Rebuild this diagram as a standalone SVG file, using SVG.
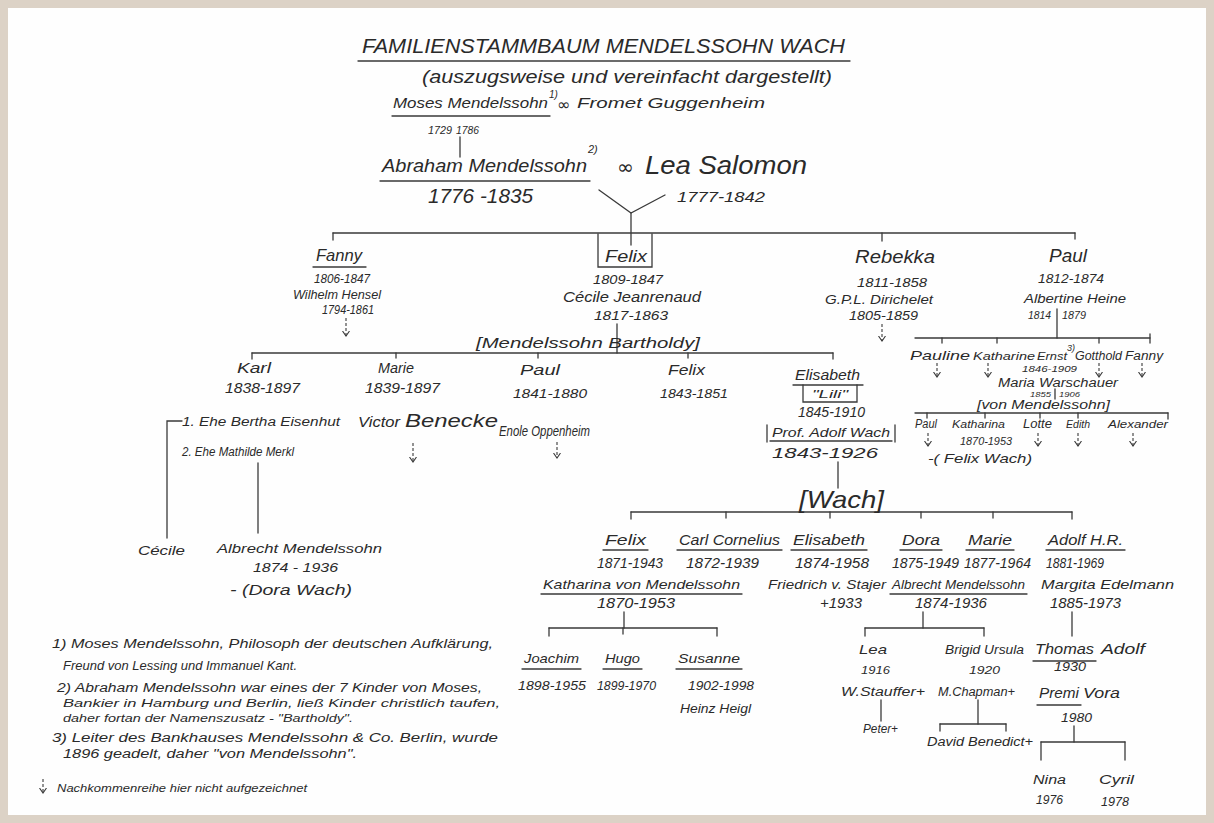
<svg xmlns="http://www.w3.org/2000/svg" width="1214" height="823" viewBox="0 0 1214 823">
<defs>
<style>
text{font-family:"Liberation Sans",Arial,sans-serif;font-style:italic;fill:#2a2a2a}
.ln{stroke:#3a3a3a;stroke-width:1.3;fill:none;stroke-linecap:round}
.ar{stroke:#3a3a3a;stroke-width:1.1;fill:none;stroke-dasharray:3 2;marker-end:url(#arr)}
.sym{font-family:"DejaVu Sans",sans-serif;font-style:normal}
.f8{font-size:8px}.f9{font-size:9px}.f10{font-size:10px}.f11{font-size:11px}.f12{font-size:12px}.f13{font-size:13px}.f14{font-size:14px}.f15{font-size:15px}.f16{font-size:16px}.f17{font-size:17px}.f18{font-size:18px}.f19{font-size:19px}.f20{font-size:20px}.f21{font-size:21px}.f24{font-size:24px}.f26{font-size:26px}
</style>
<marker id="arr" viewBox="0 -4 8 8" refX="5" refY="0" markerWidth="8" markerHeight="8" orient="auto" markerUnits="userSpaceOnUse">
<path d="M0,-3.5 L5,0 L0,3.5" fill="none" stroke="#3a3a3a" stroke-width="1.1"/>
</marker>
</defs>
<rect width="1214" height="823" fill="#dcd2c6"/>
<rect x="8" y="8" width="1198" height="807" fill="#fefefe"/>

<g id="title">
<text class="f21" x="362" y="53" textLength="483" lengthAdjust="spacingAndGlyphs">FAMILIENSTAMMBAUM MENDELSSOHN WACH</text>
<line class="ln" x1="358" y1="61" x2="850" y2="61"/>
<text class="f18" x="422" y="83" textLength="410" lengthAdjust="spacingAndGlyphs">(auszugsweise und vereinfacht dargestellt)</text>
</g>

<g id="moses">
<text class="f15" x="393" y="108" textLength="155" lengthAdjust="spacingAndGlyphs">Moses Mendelssohn</text>
<line class="ln" x1="392" y1="116" x2="550" y2="116"/>
<text class="f10" x="549" y="98">1)</text>
<text class="sym f16" x="557" y="110">∞</text>
<text class="f11" x="428" y="134" textLength="24" lengthAdjust="spacingAndGlyphs">1729</text>
<text class="f11" x="456" y="134" textLength="23" lengthAdjust="spacingAndGlyphs">1786</text>
</g>
<g id="fromet">
<text class="f15" x="577" y="108" textLength="188" lengthAdjust="spacingAndGlyphs">Fromet Guggenheim</text>
</g>

<g id="abraham">
<text class="f19" x="382" y="172" textLength="205" lengthAdjust="spacingAndGlyphs">Abraham Mendelssohn</text>
<line class="ln" x1="380" y1="181" x2="590" y2="181"/>
<text class="f11" x="588" y="153">2)</text>
<text class="f21" x="428" y="203" textLength="105" lengthAdjust="spacingAndGlyphs">1776 -1835</text>
<text class="sym f20" x="617" y="174">∞</text>
</g>
<g id="lea">
<text class="f26" x="645" y="174" textLength="162" lengthAdjust="spacingAndGlyphs">Lea Salomon</text>
<text class="f14" x="677" y="202" textLength="88" lengthAdjust="spacingAndGlyphs">1777-1842</text>
</g>

<g id="connectors">
<line class="ln" x1="460" y1="137" x2="460" y2="157"/>
<polyline class="ln" points="599,190 631,213 665,195"/>
<line class="ln" x1="631" y1="213" x2="631" y2="245"/>
<line class="ln" x1="333" y1="233" x2="1075" y2="233"/>
<line class="ln" x1="333" y1="233" x2="333" y2="240"/>
<line class="ln" x1="882" y1="233" x2="882" y2="241"/>
<line class="ln" x1="1075" y1="233" x2="1075" y2="239"/>
<path class="ln" d="M598,234 V267 H652 V234"/>
<line class="ar" x1="346" y1="318" x2="346" y2="336"/>
<line class="ar" x1="882" y1="324" x2="882" y2="341"/>
<!-- Felix children -->
<line class="ln" x1="617" y1="324" x2="617" y2="353"/>
<line class="ln" x1="252" y1="353" x2="833" y2="353"/>
<line class="ln" x1="252" y1="353" x2="252" y2="359"/>
<line class="ln" x1="396" y1="353" x2="396" y2="358"/>
<line class="ln" x1="538" y1="353" x2="538" y2="358"/>
<line class="ln" x1="688" y1="353" x2="688" y2="358"/>
<line class="ln" x1="833" y1="353" x2="833" y2="359"/>
<path class="ln" d="M182,421 H167 V538"/>
<line class="ln" x1="258" y1="463" x2="258" y2="533"/>
<line class="ar" x1="413" y1="443" x2="413" y2="462"/>
<line class="ar" x1="557" y1="442" x2="557" y2="458"/>
<!-- Paul children -->
<line class="ln" x1="1057" y1="309" x2="1057" y2="338"/>
<line class="ln" x1="915" y1="338" x2="1150" y2="338"/>
<line class="ln" x1="942" y1="338" x2="942" y2="343"/>
<line class="ln" x1="997" y1="338" x2="997" y2="343"/>
<line class="ln" x1="1099" y1="338" x2="1099" y2="343"/>
<line class="ln" x1="1150" y1="334" x2="1150" y2="343"/>
<line class="ar" x1="937" y1="363" x2="937" y2="377"/>
<line class="ar" x1="988" y1="363" x2="988" y2="377"/>
<line class="ar" x1="1099" y1="363" x2="1099" y2="377"/>
<line class="ar" x1="1142" y1="363" x2="1142" y2="377"/>
<line class="ln" x1="1055" y1="389" x2="1055" y2="399"/>
<line class="ln" x1="915" y1="413" x2="1168" y2="413"/>
<line class="ln" x1="927" y1="413" x2="927" y2="418"/>
<line class="ln" x1="985" y1="413" x2="985" y2="418"/>
<line class="ln" x1="1040" y1="413" x2="1040" y2="418"/>
<line class="ln" x1="1078" y1="413" x2="1078" y2="418"/>
<line class="ln" x1="1168" y1="413" x2="1168" y2="419"/>
<line class="ar" x1="928" y1="433" x2="928" y2="446"/>
<line class="ar" x1="1038" y1="433" x2="1038" y2="446"/>
<line class="ar" x1="1078" y1="433" x2="1078" y2="446"/>
<line class="ar" x1="1133" y1="433" x2="1133" y2="446"/>
<!-- Wach -->
<line class="ln" x1="838" y1="462" x2="838" y2="488"/>
<line class="ln" x1="631" y1="512" x2="1072" y2="512"/>
<line class="ln" x1="631" y1="512" x2="631" y2="519"/>
<line class="ln" x1="726" y1="512" x2="726" y2="518"/>
<line class="ln" x1="830" y1="512" x2="830" y2="518"/>
<line class="ln" x1="921" y1="512" x2="921" y2="518"/>
<line class="ln" x1="993" y1="512" x2="993" y2="518"/>
<line class="ln" x1="1072" y1="512" x2="1072" y2="519"/>
<line class="ln" x1="624" y1="612" x2="624" y2="628"/>
<line class="ln" x1="549" y1="628" x2="717" y2="628"/>
<line class="ln" x1="549" y1="628" x2="549" y2="636"/>
<line class="ln" x1="623" y1="628" x2="623" y2="634"/>
<line class="ln" x1="717" y1="628" x2="717" y2="636"/>
<line class="ln" x1="923" y1="612" x2="923" y2="628"/>
<line class="ln" x1="865" y1="628" x2="984" y2="628"/>
<line class="ln" x1="865" y1="628" x2="865" y2="636"/>
<line class="ln" x1="984" y1="628" x2="984" y2="636"/>
<line class="ln" x1="881" y1="700" x2="881" y2="721"/>
<line class="ln" x1="978" y1="700" x2="978" y2="724"/>
<line class="ln" x1="940" y1="724" x2="1006" y2="724"/>
<line class="ln" x1="940" y1="724" x2="940" y2="731"/>
<line class="ln" x1="1006" y1="724" x2="1006" y2="731"/>
<line class="ln" x1="1072" y1="612" x2="1072" y2="636"/>
<line class="ln" x1="1074" y1="726" x2="1074" y2="742"/>
<line class="ln" x1="1041" y1="742" x2="1125" y2="742"/>
<line class="ln" x1="1041" y1="742" x2="1041" y2="760"/>
<line class="ln" x1="1125" y1="742" x2="1125" y2="760"/>
<line class="ar" x1="43" y1="779" x2="43" y2="793"/>
</g>

<g id="fanny">
<text class="f17" x="316" y="261" textLength="46" lengthAdjust="spacingAndGlyphs">Fanny</text>
<line class="ln" x1="313" y1="267" x2="366" y2="267"/>
<text class="f13" x="314" y="283" textLength="56" lengthAdjust="spacingAndGlyphs">1806-1847</text>
<text class="f13" x="293" y="299" textLength="88" lengthAdjust="spacingAndGlyphs">Wilhelm Hensel</text>
<text class="f12" x="322" y="314" textLength="52" lengthAdjust="spacingAndGlyphs">1794-1861</text>
</g>
<g id="felix">
<text class="f17" x="605" y="262" textLength="42" lengthAdjust="spacingAndGlyphs">Felix</text>
<text class="f13" x="593" y="284" textLength="70" lengthAdjust="spacingAndGlyphs">1809-1847</text>
<text class="f14" x="563" y="302" textLength="138" lengthAdjust="spacingAndGlyphs">Cécile Jeanrenaud</text>
<text class="f13" x="594" y="320" textLength="74" lengthAdjust="spacingAndGlyphs">1817-1863</text>
</g>
<g id="rebekka">
<text class="f18" x="855" y="263" textLength="80" lengthAdjust="spacingAndGlyphs">Rebekka</text>
<text class="f13" x="857" y="287" textLength="70" lengthAdjust="spacingAndGlyphs">1811-1858</text>
<text class="f12" x="825" y="304" textLength="108" lengthAdjust="spacingAndGlyphs">G.P.L. Dirichelet</text>
<text class="f12" x="849" y="320" textLength="69" lengthAdjust="spacingAndGlyphs">1805-1859</text>
</g>
<g id="paul">
<text class="f18" x="1049" y="262" textLength="38" lengthAdjust="spacingAndGlyphs">Paul</text>
<text class="f12" x="1038" y="283" textLength="66" lengthAdjust="spacingAndGlyphs">1812-1874</text>
<text class="f12" x="1024" y="303" textLength="102" lengthAdjust="spacingAndGlyphs">Albertine Heine</text>
<text class="f10" x="1028" y="319" textLength="23" lengthAdjust="spacingAndGlyphs">1814</text>
<text class="f10" x="1062" y="319" textLength="24" lengthAdjust="spacingAndGlyphs">1879</text>
</g>

<g id="mendelssohn-bartholdy">
<text class="f14" x="476" y="348" textLength="224" lengthAdjust="spacingAndGlyphs">[Mendelssohn Bartholdy]</text>
</g>
<g id="karl">
<text class="f15" x="237" y="373" textLength="34" lengthAdjust="spacingAndGlyphs">Karl</text>
<text class="f14" x="225" y="393" textLength="75" lengthAdjust="spacingAndGlyphs">1838-1897</text>
<text class="f12" x="182" y="426" textLength="158" lengthAdjust="spacingAndGlyphs">1. Ehe Bertha Eisenhut</text>
<text class="f12" x="182" y="456" textLength="112" lengthAdjust="spacingAndGlyphs">2. Ehe Mathilde Merkl</text>
</g>
<g id="cecile">
<text class="f13" x="138" y="555" textLength="47" lengthAdjust="spacingAndGlyphs">Cécile</text>
</g>
<g id="albrecht">
<text class="f13" x="217" y="553" textLength="165" lengthAdjust="spacingAndGlyphs">Albrecht Mendelssohn</text>
<text class="f13" x="253" y="572" textLength="85" lengthAdjust="spacingAndGlyphs">1874 - 1936</text>
<text class="f14" x="230" y="595" textLength="122" lengthAdjust="spacingAndGlyphs">- (Dora Wach)</text>
</g>
<g id="marie">
<text class="f15" x="378" y="373" textLength="36" lengthAdjust="spacingAndGlyphs">Marie</text>
<text class="f14" x="365" y="393" textLength="75" lengthAdjust="spacingAndGlyphs">1839-1897</text>
<text class="f14" x="358" y="427" textLength="42" lengthAdjust="spacingAndGlyphs">Victor</text>
<text class="f19" x="405" y="427" textLength="93" lengthAdjust="spacingAndGlyphs">Benecke</text>
</g>
<g id="paul-mb">
<text class="f15" x="520" y="375" textLength="40" lengthAdjust="spacingAndGlyphs">Paul</text>
<text class="f13" x="513" y="398" textLength="74" lengthAdjust="spacingAndGlyphs">1841-1880</text>
<text class="f14" x="499" y="436" textLength="91" lengthAdjust="spacingAndGlyphs">Enole Oppenheim</text>
</g>
<g id="felix-mb">
<text class="f15" x="668" y="375" textLength="37" lengthAdjust="spacingAndGlyphs">Felix</text>
<text class="f13" x="660" y="398" textLength="68" lengthAdjust="spacingAndGlyphs">1843-1851</text>
</g>
<g id="elisabeth">
<text class="f14" x="795" y="380" textLength="65" lengthAdjust="spacingAndGlyphs">Elisabeth</text>
<line class="ln" x1="793" y1="385" x2="863" y2="385"/>
<path class="ln" d="M803,385 V402 H857 V385"/>
<text class="f11" x="812" y="398" textLength="36" lengthAdjust="spacingAndGlyphs">"Lili"</text>
<text class="f14" x="798" y="417" textLength="67" lengthAdjust="spacingAndGlyphs">1845-1910</text>
<line class="ln" x1="767" y1="425" x2="767" y2="442"/>
<line class="ln" x1="895" y1="425" x2="895" y2="442"/>
<text class="f13" x="772" y="437" textLength="118" lengthAdjust="spacingAndGlyphs">Prof. Adolf Wach</text>
<line class="ln" x1="770" y1="441" x2="892" y2="441"/>
<text class="f15" x="772" y="458" textLength="106" lengthAdjust="spacingAndGlyphs">1843-1926</text>
</g>

<g id="paul-children">
<text class="f13" x="910" y="360" textLength="60" lengthAdjust="spacingAndGlyphs">Pauline</text>
<text class="f11" x="973" y="360" textLength="62" lengthAdjust="spacingAndGlyphs">Katharine</text>
<text class="f11" x="1037" y="360" textLength="30" lengthAdjust="spacingAndGlyphs">Ernst</text>
<text class="f9" x="1067" y="351">3)</text>
<text class="f12" x="1075" y="360" textLength="47" lengthAdjust="spacingAndGlyphs">Gotthold</text>
<text class="f12" x="1125" y="360" textLength="38" lengthAdjust="spacingAndGlyphs">Fanny</text>
<text class="f9" x="1022" y="372" textLength="55" lengthAdjust="spacingAndGlyphs">1846-1909</text>
<text class="f12" x="998" y="387" textLength="120" lengthAdjust="spacingAndGlyphs">Maria Warschauer</text>
<text class="f8" x="1030" y="397" textLength="21" lengthAdjust="spacingAndGlyphs">1855</text>
<text class="f8" x="1059" y="397" textLength="21" lengthAdjust="spacingAndGlyphs">1906</text>
<text class="f13" x="977" y="409" textLength="133" lengthAdjust="spacingAndGlyphs">[von Mendelssohn]</text>
</g>
<g id="ernst-children">
<text class="f12" x="915" y="428" textLength="22" lengthAdjust="spacingAndGlyphs">Paul</text>
<text class="f11" x="952" y="428" textLength="53" lengthAdjust="spacingAndGlyphs">Katharina</text>
<text class="f12" x="1023" y="428" textLength="29" lengthAdjust="spacingAndGlyphs">Lotte</text>
<text class="f11" x="1066" y="428" textLength="24" lengthAdjust="spacingAndGlyphs">Edith</text>
<text class="f11" x="1108" y="428" textLength="60" lengthAdjust="spacingAndGlyphs">Alexander</text>
<text class="f10" x="960" y="445" textLength="52" lengthAdjust="spacingAndGlyphs">1870-1953</text>
<text class="f13" x="928" y="463" textLength="104" lengthAdjust="spacingAndGlyphs">-( Felix Wach)</text>
</g>

<g id="wach">
<text class="f24" x="799" y="508" textLength="85" lengthAdjust="spacingAndGlyphs">[Wach]</text>
</g>
<g id="felix-wach">
<text class="f14" x="605" y="545" textLength="41" lengthAdjust="spacingAndGlyphs">Felix</text>
<line class="ln" x1="603" y1="550" x2="648" y2="550"/>
<text class="f14" x="597" y="568" textLength="66" lengthAdjust="spacingAndGlyphs">1871-1943</text>
<text class="f13" x="543" y="589" textLength="197" lengthAdjust="spacingAndGlyphs">Katharina von Mendelssohn</text>
<line class="ln" x1="541" y1="594" x2="742" y2="594"/>
<text class="f14" x="597" y="608" textLength="78" lengthAdjust="spacingAndGlyphs">1870-1953</text>
</g>
<g id="carl-cornelius">
<text class="f14" x="679" y="545" textLength="101" lengthAdjust="spacingAndGlyphs">Carl Cornelius</text>
<line class="ln" x1="677" y1="550" x2="782" y2="550"/>
<text class="f14" x="686" y="568" textLength="73" lengthAdjust="spacingAndGlyphs">1872-1939</text>
</g>
<g id="elisabeth-wach">
<text class="f14" x="793" y="545" textLength="72" lengthAdjust="spacingAndGlyphs">Elisabeth</text>
<line class="ln" x1="791" y1="550" x2="867" y2="550"/>
<text class="f14" x="795" y="568" textLength="74" lengthAdjust="spacingAndGlyphs">1874-1958</text>
<text class="f13" x="768" y="589" textLength="118" lengthAdjust="spacingAndGlyphs">Friedrich v. Stajer</text>
<text class="f14" x="820" y="608" textLength="42" lengthAdjust="spacingAndGlyphs">+1933</text>
</g>
<g id="dora">
<text class="f14" x="902" y="545" textLength="38" lengthAdjust="spacingAndGlyphs">Dora</text>
<line class="ln" x1="900" y1="550" x2="942" y2="550"/>
<text class="f14" x="892" y="568" textLength="67" lengthAdjust="spacingAndGlyphs">1875-1949</text>
<text class="f13" x="892" y="589" textLength="133" lengthAdjust="spacingAndGlyphs">Albrecht Mendelssohn</text>
<line class="ln" x1="890" y1="594" x2="1027" y2="594"/>
<text class="f14" x="915" y="608" textLength="72" lengthAdjust="spacingAndGlyphs">1874-1936</text>
</g>
<g id="marie-wach">
<text class="f14" x="968" y="545" textLength="44" lengthAdjust="spacingAndGlyphs">Marie</text>
<line class="ln" x1="966" y1="550" x2="1014" y2="550"/>
<text class="f14" x="964" y="568" textLength="67" lengthAdjust="spacingAndGlyphs">1877-1964</text>
</g>
<g id="adolf-wach">
<text class="f14" x="1048" y="545" textLength="75" lengthAdjust="spacingAndGlyphs">Adolf H.R.</text>
<line class="ln" x1="1046" y1="550" x2="1125" y2="550"/>
<text class="f14" x="1046" y="568" textLength="58" lengthAdjust="spacingAndGlyphs">1881-1969</text>
<text class="f13" x="1041" y="589" textLength="133" lengthAdjust="spacingAndGlyphs">Margita Edelmann</text>
<text class="f14" x="1050" y="608" textLength="71" lengthAdjust="spacingAndGlyphs">1885-1973</text>
</g>

<g id="joachim">
<text class="f13" x="524" y="663" textLength="55" lengthAdjust="spacingAndGlyphs">Joachim</text>
<line class="ln" x1="522" y1="669" x2="581" y2="669"/>
<text class="f13" x="518" y="690" textLength="68" lengthAdjust="spacingAndGlyphs">1898-1955</text>
</g>
<g id="hugo">
<text class="f13" x="605" y="663" textLength="35" lengthAdjust="spacingAndGlyphs">Hugo</text>
<line class="ln" x1="603" y1="669" x2="642" y2="669"/>
<text class="f12" x="597" y="690" textLength="59" lengthAdjust="spacingAndGlyphs">1899-1970</text>
</g>
<g id="susanne">
<text class="f13" x="678" y="663" textLength="62" lengthAdjust="spacingAndGlyphs">Susanne</text>
<line class="ln" x1="676" y1="669" x2="742" y2="669"/>
<text class="f13" x="688" y="690" textLength="66" lengthAdjust="spacingAndGlyphs">1902-1998</text>
<text class="f12" x="680" y="713" textLength="71" lengthAdjust="spacingAndGlyphs">Heinz Heigl</text>
</g>
<g id="lea-w">
<text class="f13" x="859" y="654" textLength="28" lengthAdjust="spacingAndGlyphs">Lea</text>
<text class="f11" x="861" y="674" textLength="29" lengthAdjust="spacingAndGlyphs">1916</text>
<text class="f12" x="841" y="696" textLength="84" lengthAdjust="spacingAndGlyphs">W.Stauffer+</text>
<text class="f12" x="863" y="733" textLength="35" lengthAdjust="spacingAndGlyphs">Peter+</text>
</g>
<g id="brigid">
<text class="f12" x="945" y="654" textLength="79" lengthAdjust="spacingAndGlyphs">Brigid Ursula</text>
<text class="f11" x="969" y="674" textLength="31" lengthAdjust="spacingAndGlyphs">1920</text>
<text class="f12" x="938" y="696" textLength="77" lengthAdjust="spacingAndGlyphs">M.Chapman+</text>
<text class="f12" x="927" y="746" textLength="106" lengthAdjust="spacingAndGlyphs">David Benedict+</text>
</g>
<g id="thomas">
<text class="f14" x="1035" y="654" textLength="59" lengthAdjust="spacingAndGlyphs">Thomas</text>
<line class="ln" x1="1033" y1="661" x2="1096" y2="661"/>
<text class="f14" x="1101" y="654" textLength="44" lengthAdjust="spacingAndGlyphs">Adolf</text>
<text class="f12" x="1054" y="671" textLength="32" lengthAdjust="spacingAndGlyphs">1930</text>
<text class="f14" x="1039" y="698" textLength="40" lengthAdjust="spacingAndGlyphs">Premi</text>
<line class="ln" x1="1037" y1="705" x2="1081" y2="705"/>
<text class="f14" x="1083" y="698" textLength="37" lengthAdjust="spacingAndGlyphs">Vora</text>
<text class="f12" x="1061" y="722" textLength="31" lengthAdjust="spacingAndGlyphs">1980</text>
</g>
<g id="nina">
<text class="f12" x="1033" y="784" textLength="33" lengthAdjust="spacingAndGlyphs">Nina</text>
<text class="f12" x="1036" y="804" textLength="27" lengthAdjust="spacingAndGlyphs">1976</text>
</g>
<g id="cyril">
<text class="f12" x="1099" y="784" textLength="35" lengthAdjust="spacingAndGlyphs">Cyril</text>
<text class="f12" x="1101" y="806" textLength="28" lengthAdjust="spacingAndGlyphs">1978</text>
</g>

<g id="footnotes">
<text class="f13" x="52" y="648" textLength="441" lengthAdjust="spacingAndGlyphs">1) Moses Mendelssohn, Philosoph der deutschen Aufklärung,</text>
<text class="f13" x="63" y="670" textLength="234" lengthAdjust="spacingAndGlyphs">Freund von Lessing und Immanuel Kant.</text>
<text class="f12" x="57" y="692" textLength="425" lengthAdjust="spacingAndGlyphs">2) Abraham Mendelssohn war eines der 7 Kinder von Moses,</text>
<text class="f11" x="63" y="707" textLength="437" lengthAdjust="spacingAndGlyphs">Bankier in Hamburg und Berlin, ließ Kinder christlich taufen,</text>
<text class="f11" x="63" y="722" textLength="290" lengthAdjust="spacingAndGlyphs">daher fortan der Namenszusatz - "Bartholdy".</text>
<text class="f12" x="52" y="742" textLength="446" lengthAdjust="spacingAndGlyphs">3) Leiter des Bankhauses Mendelssohn &amp; Co. Berlin, wurde</text>
<text class="f12" x="63" y="758" textLength="294" lengthAdjust="spacingAndGlyphs">1896 geadelt, daher "von Mendelssohn".</text>
<text class="f11" x="57" y="792" textLength="250" lengthAdjust="spacingAndGlyphs">Nachkommenreihe hier nicht aufgezeichnet</text>
</g>
</svg>
